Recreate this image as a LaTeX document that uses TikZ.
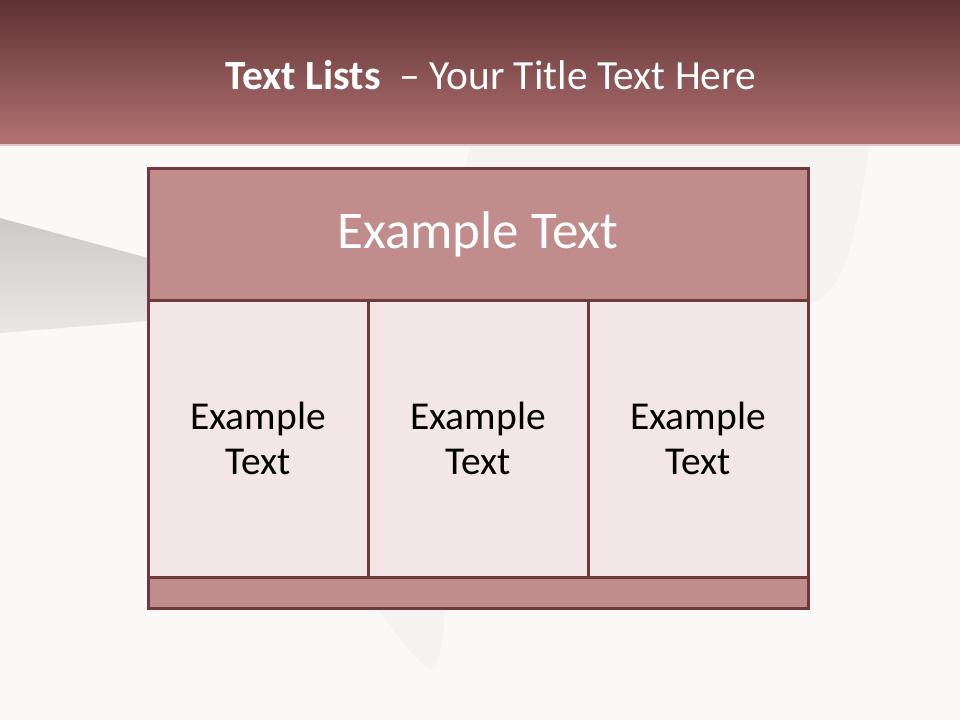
\documentclass[tikz,border=0pt]{standalone}
\usepackage{fontspec}
\setmainfont{Carlito}
\usepackage{xcolor}
\usetikzlibrary{positioning}

\definecolor{pagebg}{HTML}{FCF8F7}
\definecolor{bandtop}{HTML}{5E3133}
\definecolor{bandbot}{HTML}{B37373}
\definecolor{rim}{HTML}{6E3A3C}
\definecolor{headfill}{HTML}{C18D8C}
\definecolor{cellfill}{HTML}{F3E6E6}
\definecolor{ghost}{HTML}{F5F2F1}

\tikzset{
  tablecell/.style={draw=rim, line width=3pt, inner sep=0pt, align=center},
  headcell/.style={tablecell, fill=headfill, text=white,
    font=\fontsize{53}{60}\selectfont},
  bodycell/.style={tablecell, fill=cellfill, text=black,
    minimum width=220pt, minimum height=277pt,
    font=\fontsize{39.5}{45}\selectfont}
}

\begin{document}
\begin{tikzpicture}[x=1pt,y=-1pt]
  \useasboundingbox (0,0) rectangle (960,720);
  % page background
  \fill[pagebg] (0,0) rectangle (960,720);
  % faint ghost shape behind the table
  \fill[ghost] (470,145) -- (870,145) .. controls (855,230) and (850,290) .. (808,305)
    -- (808,608) -- (446,608) .. controls (442,640) and (440,666) .. (431,669)
    .. controls (424,669) and (400,640) .. (377,608) -- cycle;
  % grey wedge on the left
  \shade[top color=black!19!pagebg, bottom color=black!7!pagebg]
    (0,218) -- (148,258) -- (148,321) -- (0,333) -- cycle;
  % title band
  \shade[top color=bandtop, bottom color=bandbot] (0,0) rectangle (960,145);
  \fill[bandbot!40!white] (0,144) rectangle (960,146);
  \node[text=white, font=\fontsize{41.5}{46}\selectfont] (title) at (491,75)
    {\textbf{Text Lists}\ \ – Your Title Text Here};
  % table
  \node[headcell, minimum width=660pt, minimum height=132pt] (head) at (478,234) {Example Text};
  \foreach \n/\x in {1/258, 2/478, 3/698} {
    \node[bodycell] (cell\n) at (\x,438.5) {Example\\Text};
  }
  \node[tablecell, fill=headfill, minimum width=660pt, minimum height=31pt] (foot) at (478,592.5) {};
\end{tikzpicture}
\end{document}
